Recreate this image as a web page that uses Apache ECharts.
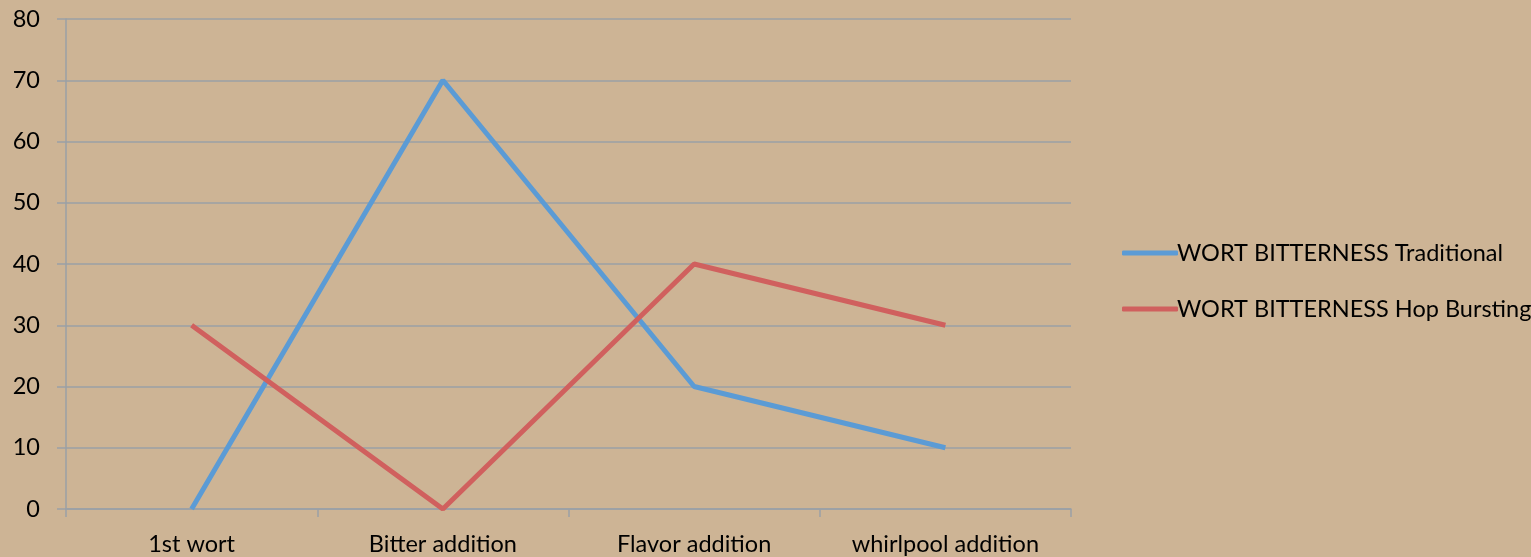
<!DOCTYPE html>
<html><head><meta charset="utf-8">
<script src="https://cdn.jsdelivr.net/npm/echarts@6/dist/echarts.min.js"></script>
<style>html,body{margin:0;padding:0;background:#cdb495;}#c{width:1531px;height:557px;}</style>
</head><body><div id="c"></div>
<script>
const categories = ['1st wort', 'Bitter addition', 'Flavor addition', 'whirlpool addition'];
const traditional = [0, 70, 20, 10];
const hopBursting = [30, 0, 40, 30];
const seriesNames = ['WORT BITTERNESS Traditional', 'WORT BITTERNESS Hop Bursting'];
const FONT = 'Lato';
const FS = 23.5;
const chart = echarts.init(document.getElementById('c'));
chart.setOption({
  backgroundColor: '#cdb495',
  animation: false,
  grid: {left: 66, right: 460, top: 19, bottom: 48},
  legend: {
    orient: 'vertical', left: 1117, top: 235, itemWidth: 56, itemHeight: 5, itemGap: 30,
    icon: 'roundRect',
    textStyle: {fontFamily: FONT, fontSize: FS, lineHeight: 26, color: '#000', padding: [0,0,0,-6]},
    data: seriesNames
  },
  xAxis: {
    type: 'category', data: categories, boundaryGap: true,
    axisLine: {lineStyle: {color: '#9aa0a6', width: 1.5}},
    axisTick: {show: true, length: 8, lineStyle: {color: '#9aa0a6', width: 1.5}},
    axisLabel: {fontFamily: FONT, fontSize: FS, color: '#000', margin: 23}
  },
  yAxis: {
    type: 'value', min: 0, max: 80, interval: 10,
    axisLine: {show: true, lineStyle: {color: '#9aa0a6', width: 1.5}},
    axisTick: {show: true, length: 9, lineStyle: {color: '#9aa0a6', width: 1.5}},
    splitLine: {lineStyle: {color: '#9aa0a6', width: 1.5}},
    axisLabel: {fontFamily: FONT, fontSize: FS, color: '#000', margin: 26}
  },
  series: [
    {name: seriesNames[0], type: 'line', data: traditional, symbol: 'none',
     itemStyle: {color: '#5b9bd5'}, lineStyle: {color: '#5b9bd5', width: 5}},
    {name: seriesNames[1], type: 'line', data: hopBursting, symbol: 'none',
     itemStyle: {color: '#d0605e'}, lineStyle: {color: '#d0605e', width: 5}}
  ]
});
</script></body></html>
